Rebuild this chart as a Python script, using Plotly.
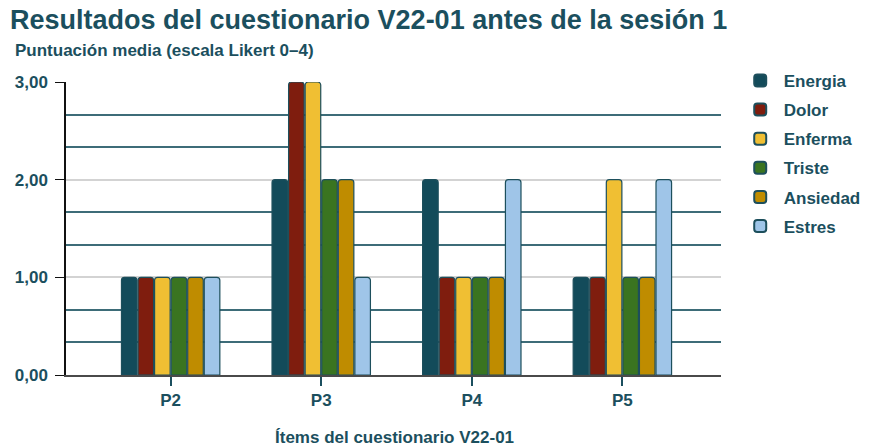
import plotly.graph_objects as go

# ===== datos =====
items = ['P2', 'P3', 'P4', 'P5']
energia = [1, 2, 2, 1]
dolor = [1, 3, 1, 1]
enferma = [1, 3, 1, 2]
triste = [1, 2, 1, 1]
ansiedad = [1, 2, 1, 1]
estres = [1, 1, 2, 2]

series = ['Energia', 'Dolor', 'Enferma', 'Triste', 'Ansiedad', 'Estres']
valores = [energia, dolor, enferma, triste, ansiedad, estres]
colores = ['#134b5a', '#7f1d0e', '#f0bf33', '#3a7420', '#bf8c00', '#9fc5e8']

TEAL = '#1b4f5e'
FUENTE = 'Liberation Sans, Arial, sans-serif'

fig = go.Figure()
for nombre, vals, col in zip(series, valores, colores):
    fig.add_trace(go.Bar(
        x=items, y=vals, name=nombre, legendgroup=nombre,
        marker=dict(color=col, line=dict(color='#1d4f5c', width=1.2), cornerradius=3),
    ))

# titulo, subtitulo y titulo del eje x como anotaciones
fig.add_annotation(text='<b>Resultados del cuestionario V22-01 antes de la sesión 1</b>',
                   xref='paper', yref='paper', x=-0.088, y=1.212, xanchor='left', yanchor='middle',
                   showarrow=False, font=dict(size=27, color=TEAL))
fig.add_annotation(text='<b>Puntuación media (escala Likert 0–4)</b>',
                   xref='paper', yref='paper', x=-0.081, y=1.109, xanchor='left', yanchor='middle',
                   showarrow=False, font=dict(size=17, color=TEAL))
fig.add_annotation(text='<b>Ítems del cuestionario V22-01</b>',
                   xref='paper', yref='paper', x=0.502, y=-0.212, xanchor='center', yanchor='middle',
                   showarrow=False, font=dict(size=17, color=TEAL))

# la pagina deja 8px de margen en el body, por eso 870x440
fig.update_layout(
    width=870, height=440, autosize=False,
    margin=dict(l=58, r=155, t=74, b=73),
    plot_bgcolor='white', paper_bgcolor='white',
    separators=',.',
    barmode='group', bargap=0.34, bargroupgap=0.06,
    font=dict(family=FUENTE, color=TEAL),
    legend=dict(
        x=1.024, xanchor='left', y=1.065, yanchor='top',
        font=dict(size=17, color=TEAL, family=FUENTE, weight='bold'),
        itemsizing='constant', itemwidth=37, tracegroupgap=4,
    ),
)

fig.update_xaxes(
    range=[-0.695, 3.655], automargin=False,
    showline=True, linecolor='#4a4a4a', linewidth=2,
    ticks='outside', ticklen=9, tickwidth=2, tickcolor=TEAL,
    tickfont=dict(size=17, color=TEAL, weight='bold'),
    showgrid=False,
)
fig.update_yaxes(
    range=[0, 3], dtick=1, tickformat='.2f', automargin=False,
    showline=True, linecolor='#111111', linewidth=1.5,
    ticks='outside', ticklen=9, tickcolor='#111111', ticklabelstandoff=4,
    tickfont=dict(size=17, color=TEAL, weight='bold'),
    showgrid=True, gridcolor='#d3d3d3', gridwidth=1.5,
    minor=dict(dtick=1/3, showgrid=True, gridcolor='#3d6c78', gridwidth=1.5),
    zeroline=False,
)

fig.write_html('out.html')
